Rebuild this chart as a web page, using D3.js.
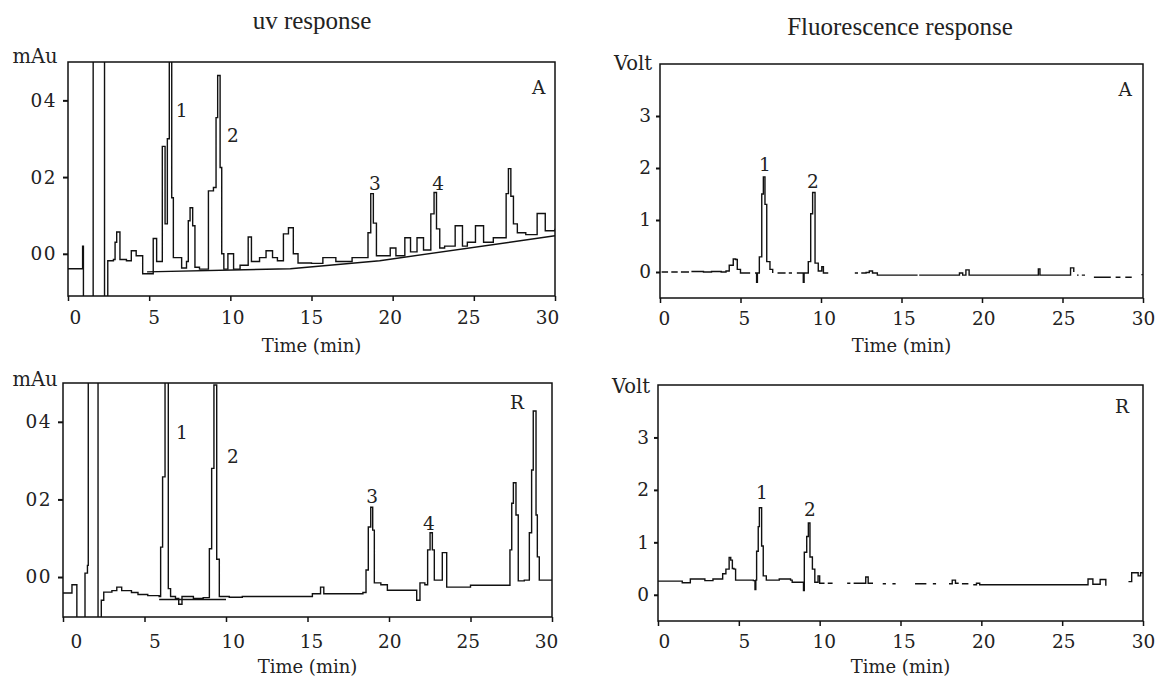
<!DOCTYPE html>
<html><head><meta charset="utf-8">
<script src="https://cdn.jsdelivr.net/npm/d3@7"></script>
<style>
body{margin:0;background:#fff;}
svg{display:block;background:#fff;}
</style></head><body>
<svg id="chart" width="1163" height="687"></svg>
<script>
// ---------------- data ----------------
const timeTicks = [0, 5, 10, 15, 20, 25, 30];
const uvTicks = [0, 0.02, 0.04];
const uvTickLabels = ["00", "02", "04"];
const flTicks = [0, 1, 2, 3];
const flTickLabels = ["0", "1", "2", "3"];
const panelTitles = ["uv response", "Fluorescence response"];
const xAxisTitle = "Time (min)";

// uv response, sample A  [time (min), absorbance]
const uvA = [[0,-0.0039],[0.85,-0.0039],[0.9,0.002],[0.95,-0.02],[1.5,-0.02],[1.55,0.07],[2.1,0.07],[2.25,-0.02],[2.4,-0.02],[2.45,-0.0018],[2.8,-0.0015],[2.9,0.003],[3.0,0.0057],[3.2,-0.0015],[3.6,-0.0018],[3.9,0.0008],[4.2,-0.0005],[4.6,-0.0052],[5.25,0.004],[5.46,-0.002],[5.81,0.028],[5.98,0.0078],[6.12,0.03],[6.24,0.052],[6.39,0.0146],[6.49,-0.001],[7.0,-0.0037],[7.3,-0.002],[7.41,0.0086],[7.52,0.012],[7.68,0.0073],[7.82,-0.0035],[8.1,-0.004],[8.65,0.0164],[8.96,0.0173],[9.12,0.0355],[9.22,0.0465],[9.37,0.0225],[9.47,0],[9.6,-0.004],[9.85,0],[10.2,-0.004],[10.6,-0.003],[11.1,0.0044],[11.3,-0.002],[11.8,-0.001],[12.2,0.0008],[12.6,-0.001],[12.9,-0.0018],[13.27,0.0052],[13.58,0.0068],[13.88,0],[14.17,-0.0024],[15.0,-0.0025],[15.7,-0.001],[16.5,-0.002],[17.5,-0.001],[18.48,0.0055],[18.65,0.0157],[18.81,0.008],[19.0,-0.0005],[19.5,-0.0005],[19.85,0.0015],[20.2,-0.0005],[20.75,0.0042],[21.1,0.0005],[21.5,0.0042],[21.9,0.001],[22.35,0.0104],[22.55,0.016],[22.7,0.0065],[22.9,0.0015],[23.2,0.002],[23.85,0.0073],[24.3,0.002],[24.6,0.003],[25.1,0.0073],[25.6,0.003],[26.2,0.0042],[26.99,0.0157],[27.13,0.0222],[27.28,0.015],[27.44,0.0078],[27.68,0.0055],[28.2,0.005],[28.9,0.0105],[29.4,0.006],[30,0.0065]];
const uvABaseline = [[4.87,-0.0047],[13.7,-0.0039],[19.2,-0.0018],[30,0.0047]];

// uv response, sample R
const uvR = [[0,-0.0041],[0.5,-0.0041],[0.55,-0.002],[0.8,-0.002],[0.85,-0.02],[1.3,-0.02],[1.35,0.001],[1.5,0.003],[1.55,0.07],[2.05,0.07],[2.15,-0.02],[2.3,-0.02],[2.35,-0.006],[2.5,-0.0039],[3.0,-0.0035],[3.3,-0.0026],[3.6,-0.0035],[4.2,-0.004],[4.6,-0.0045],[5.2,-0.0048],[5.9,-0.005],[5.99,0.0077],[6.11,0.0258],[6.26,0.07],[6.46,-0.003],[6.6,-0.005],[6.9,-0.0055],[7.1,-0.007],[7.3,-0.005],[8.0,-0.0055],[8.6,-0.0053],[8.98,0.0073],[9.12,0.028],[9.26,0.0495],[9.43,0.0046],[9.59,-0.005],[10.2,-0.0052],[11.0,-0.005],[12.5,-0.005],[13.3,-0.005],[15.3,-0.0043],[15.6,-0.0043],[15.8,-0.0026],[16.0,-0.0043],[18.4,-0.004],[18.59,0.0018],[18.73,0.0129],[18.88,0.018],[19.0,0.0121],[19.1,-0.0015],[19.5,-0.002],[19.9,-0.0034],[21.5,-0.0034],[21.7,-0.006],[21.9,-0.0015],[22.2,-0.002],[22.37,0.007],[22.52,0.0114],[22.66,0.007],[22.78,-0.0008],[23.27,0.0063],[23.54,-0.0026],[24.8,-0.0026],[25.0,-0.0021],[27.42,0.007],[27.53,0.019],[27.63,0.0243],[27.79,0.016],[27.93,-0.001],[28.3,-0.0008],[28.61,0.0114],[28.75,0.0276],[28.85,0.0428],[29.02,0.016],[29.1,0.0052],[29.22,-0.0008],[30,-0.0008]];
const uvRBaseline = [[5.9,-0.0058],[10.0,-0.0058]];

// fluorescence response, sample A  [time (min), volt]  (null = gap in the trace)
const flA = [[0.1,0],[0.5,0],[0.55,null],[0.7,0],[1.1,0],[1.15,null],[1.3,0],[1.8,0],[1.85,null],[1.95,0.01],[2.6,0.01],[2.7,0],[3.2,0.01],[3.8,0],[4.1,0.02],[4.3,0.13],[4.45,0.13],[4.55,0.25],[4.7,0.24],[4.8,0.05],[5.0,-0.02],[5.6,-0.02],[5.7,null],[5.9,-0.02],[6.0,-0.02],[6.0,-0.2],[6.05,-0.02],[6.17,0.29],[6.32,1.5],[6.42,1.83],[6.52,1.3],[6.63,0.2],[6.83,0.05],[7.0,-0.02],[7.1,null],[7.3,-0.02],[7.8,-0.02],[7.9,null],[8.0,-0.02],[8.2,-0.02],[8.3,null],[8.5,-0.02],[8.85,-0.02],[8.9,-0.2],[8.95,-0.02],[9.21,0.2],[9.36,1.12],[9.48,1.53],[9.63,0.17],[9.83,0.02],[10.05,0.1],[10.15,-0.02],[10.45,-0.02],[10.5,null],[12.1,-0.02],[12.3,-0.02],[12.35,null],[12.5,-0.02],[12.8,-0.01],[13.0,0.02],[13.2,-0.02],[13.5,-0.06],[16.0,-0.06],[16.05,null],[16.1,-0.06],[18.4,-0.06],[18.6,-0.02],[18.8,-0.06],[19.0,0.04],[19.2,-0.06],[23.4,-0.06],[23.5,0.06],[23.6,-0.06],[25.4,-0.06],[25.5,0.08],[25.7,0.0],[25.8,null],[25.9,-0.06],[26.0,-0.06],[26.05,null],[26.2,-0.06],[26.4,-0.06],[26.45,null],[26.95,-0.1],[28.0,-0.1],[28.05,null],[28.3,-0.1],[28.6,-0.1],[28.65,null],[28.9,-0.1],[29.3,-0.1],[29.35,null],[29.9,-0.05],[30,-0.05]];

// fluorescence response, sample R
const flR = [[0,0.26],[1.4,0.26],[1.5,0.23],[1.9,0.23],[2.0,0.3],[2.8,0.3],[2.9,0.27],[3.3,0.27],[3.4,0.3],[3.9,0.3],[4.0,0.4],[4.2,0.49],[4.4,0.71],[4.5,0.66],[4.6,0.5],[4.7,0.49],[4.8,0.28],[5.9,0.27],[6.0,0.1],[6.05,0.28],[6.1,0.83],[6.2,1.3],[6.27,1.66],[6.41,0.93],[6.51,0.36],[6.7,0.28],[7.3,0.28],[7.5,0.3],[8.2,0.28],[8.3,0.24],[8.9,0.24],[9.0,0.08],[9.05,0.81],[9.2,1.11],[9.3,1.37],[9.4,0.72],[9.55,0.49],[9.7,0.24],[9.9,0.36],[10.0,0.22],[10.3,0.22],[10.35,null],[10.5,0.22],[10.8,0.22],[10.85,null],[11.7,0.22],[11.9,0.22],[11.95,null],[12.1,0.22],[12.7,0.22],[12.85,0.34],[13.0,0.22],[13.3,0.22],[13.35,null],[13.9,0.21],[14.1,0.21],[14.15,null],[14.5,0.21],[14.7,0.21],[14.75,null],[15.9,0.21],[16.6,0.21],[16.65,null],[17.0,0.21],[17.2,0.21],[17.25,null],[18.0,0.21],[18.2,0.28],[18.4,0.22],[18.6,0.22],[18.65,null],[18.8,0.21],[19.2,0.21],[19.25,null],[19.5,0.19],[19.7,0.22],[19.9,0.19],[26.4,0.19],[26.6,0.3],[26.9,0.2],[27.1,0.2],[27.35,0.29],[27.7,0.17],[27.75,null],[29.1,0.25],[29.3,0.42],[29.6,0.42],[29.7,0.36],[29.85,0.42],[30,0.4]];

// peak / sample annotations [text, time, value]
const uvALabels = [["1",7.0,0.0373],["2",10.15,0.0308],["3",18.9,0.0183],["4",22.8,0.0183],["A",29.0,0.0434]];
const uvRLabels = [["1",7.3,0.0374],["2",10.43,0.031],["3",18.96,0.0209],["4",22.45,0.0139],["R",27.85,0.0449]];
const flALabels = [["1",6.52,2.08],["2",9.5,1.75],["A",28.9,3.52]];
const flRLabels = [["1",6.43,1.96],["2",9.4,1.62],["R",28.7,3.6]];

// ---------------- layout ----------------
const svg = d3.select("#chart");
svg.append("rect").attr("width",1163).attr("height",687).attr("fill","#fff");
const defs = svg.append("defs");
const tickFont = "'DejaVu Serif', serif";
const titleFont = "'Liberation Serif', 'Times New Roman', serif";

const panels = [
  {id:"uvA", x0:68, x1:555, y0:62, y1:296, yDomain:[-0.011,0.05], yTicks:uvTicks, yLabels:uvTickLabels,
   unit:"mAu", unitX:35, unitY:63, labelRange:[75,547], labelPad:15, titleY:352, ySize:5, yPad:6,
   traces:[{data:uvA, step:true},{data:uvABaseline, step:false}], notes:uvALabels},
  {id:"uvR", x0:63, x1:552, y0:383, y1:617, yDomain:[-0.0103,0.05], yTicks:uvTicks, yLabels:uvTickLabels,
   unit:"mAu", unitX:35, unitY:386, labelRange:[76,546], labelPad:18, titleY:673, ySize:5, yPad:6,
   traces:[{data:uvR, step:true},{data:uvRBaseline, step:false}], notes:uvRLabels},
  {id:"flA", x0:660, x1:1143, y0:64, y1:298, yDomain:[-0.5,4], yTicks:flTicks, yLabels:flTickLabels,
   unit:"Volt", unitX:633, unitY:70, labelRange:[664,1143], labelPad:14, titleY:352, ySize:4, yPad:5,
   traces:[{data:flA, step:true}], notes:flALabels},
  {id:"flR", x0:658, x1:1143, y0:385, y1:621, yDomain:[-0.5,4], yTicks:flTicks, yLabels:flTickLabels,
   unit:"Volt", unitX:631, unitY:393, labelRange:[664,1143], labelPad:14, titleY:673, ySize:4, yPad:5,
   traces:[{data:flR, step:true}], notes:flRLabels}
];

panels.forEach(p => {
  const x = d3.scaleLinear().domain([0,30]).range([p.x0,p.x1]);
  const xl = d3.scaleLinear().domain([0,30]).range(p.labelRange);
  const y = d3.scaleLinear().domain(p.yDomain).range([p.y1,p.y0]);
  const g = svg.append("g");

  defs.append("clipPath").attr("id","clip-"+p.id)
    .append("rect").attr("x",p.x0).attr("y",p.y0).attr("width",p.x1-p.x0).attr("height",p.y1-p.y0);

  const tg = g.append("g").attr("clip-path","url(#clip-"+p.id+")");
  p.traces.forEach(tr => {
    const line = d3.line().defined(d => d[1] !== null).x(d => x(d[0])).y(d => y(d[1]))
      .curve(tr.step ? d3.curveStepAfter : d3.curveLinear);
    tg.append("path").datum(tr.data).attr("d",line)
      .attr("fill","none").attr("stroke","#111").attr("stroke-width",1.4).attr("stroke-linejoin","miter");
  });

  // x axis tick marks
  const xa = g.append("g").attr("transform",`translate(0,${p.y1})`)
    .call(d3.axisBottom(x).tickValues(timeTicks).tickSize(5).tickFormat(""));
  xa.select(".domain").remove();
  xa.selectAll("line").attr("stroke","#111").attr("stroke-width",1.5);
  // x axis labels
  const xla = g.append("g").attr("transform",`translate(0,${p.y1})`)
    .call(d3.axisBottom(xl).tickValues(timeTicks).tickSize(0).tickPadding(p.labelPad).tickFormat(d3.format("d")));
  xla.select(".domain").remove();
  xla.selectAll("text").attr("font-family",tickFont).attr("font-size",18.5).attr("fill","#222");

  // y axis
  const ya = g.append("g").attr("transform",`translate(${p.x0},0)`)
    .call(d3.axisLeft(y).tickValues(p.yTicks).tickSize(p.ySize).tickPadding(p.yPad)
      .tickFormat((d,i) => p.yLabels[i]));
  ya.select(".domain").remove();
  ya.selectAll("line").attr("stroke","#111").attr("stroke-width",2);
  ya.selectAll("text").attr("font-family",tickFont).attr("font-size",18.5).attr("fill","#222")
    .attr("letter-spacing", p.id.startsWith("uv") ? "1.5px" : "0px");

  // frame
  g.append("rect").attr("x",p.x0).attr("y",p.y0).attr("width",p.x1-p.x0).attr("height",p.y1-p.y0)
    .attr("fill","none").attr("stroke","#111").attr("stroke-width",1.5);

  // unit label
  g.append("text").attr("x",p.unitX).attr("y",p.unitY).attr("text-anchor","middle")
    .attr("font-family",tickFont).attr("font-size",19.5).attr("fill","#222").text(p.unit);

  // axis title
  g.append("text").attr("x",(p.x0+p.x1)/2).attr("y",p.titleY).attr("text-anchor","middle")
    .attr("font-family",tickFont).attr("font-size",18).attr("fill","#222").text(xAxisTitle);

  // annotations
  g.selectAll("text.note").data(p.notes).enter().append("text").attr("class","note")
    .attr("x",d => x(d[1])).attr("y",d => y(d[2])).attr("dy","0.36em").attr("text-anchor","middle")
    .attr("font-family",tickFont).attr("font-size",18.5).attr("fill","#222").text(d => d[0]);
});

// column titles
svg.append("text").attr("x",312).attr("y",29).attr("text-anchor","middle")
  .attr("font-family",titleFont).attr("font-size",25).attr("fill","#222").text(panelTitles[0]);
svg.append("text").attr("x",900).attr("y",35).attr("text-anchor","middle")
  .attr("font-family",titleFont).attr("font-size",25).attr("fill","#222").text(panelTitles[1]);
</script>
</body></html>
